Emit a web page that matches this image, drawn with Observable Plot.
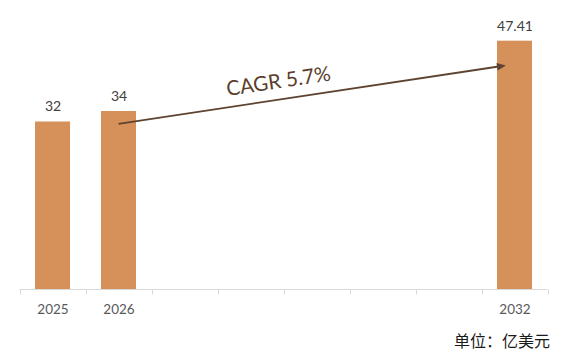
<!DOCTYPE html>
<html><head><meta charset="utf-8">
<script src="https://cdn.jsdelivr.net/npm/d3@7"></script>
<script src="https://cdn.jsdelivr.net/npm/@observablehq/plot@0.6"></script>
<style>
body{margin:0;background:#fff;}
#unit{font-family:"Noto Sans CJK SC",sans-serif;font-size:16px;line-height:18px;color:#1a1a1a;text-align:right;padding-right:21px;margin-top:9px;}
</style>
</head><body><div id="chart"></div><div id="unit">单位：亿美元</div>
<script>
const years = ["2025","2026","2027","2028","2029","2030","2031","2032"];
const labelledYears = ["2025","2026","2032"];
const barYears = ["2025","2026","2032"];
const barValues = [32, 34, 47.41];
const barLabels = ["32","34","47.41"];
const cagrLabel = "CAGR 5.7%";
const cagrYears = ["2026","2032"];
const cagrValues = [31.55, 42.7];
const cagrOffsets = [0.0, -0.13]; // fraction of a category step from the band centre

const bars = barYears.map((y,i)=>({year:y, value:barValues[i], label:barLabels[i]}));

const plot = Plot.plot({
  width: 571, height: 322,
  marginLeft: 16, marginRight: 20, marginTop: 27.1, marginBottom: 32.7,
  x: {domain: years, paddingInner: 0.47, paddingOuter: 0.235},
  y: {domain: [0, 50], axis: null},
  style: {fontFamily: "Lato, sans-serif", background: "#fff"},
  marks: [
    Plot.barY(bars, {x:"year", y:"value", fill:"#D6915A"}),
    Plot.text(bars, {x:"year", y:"value", text:"label", dy:-15, fontSize:14, fill:"#404040"}),
    Plot.axisX({tickSize:0, tickPadding:15, fontSize:13.5, fill:"#595959", label:null,
      tickFormat: d => labelledYears.includes(d) ? d : ""})
  ]
});
document.getElementById("chart").appendChild(plot);

// annotations positioned through Plot's own scales
const sx = plot.scale("x"), sy = plot.scale("y");
const bw = sx.bandwidth, step = sx.step;
const cx = d => sx.apply(d) + bw/2;
const svg = d3.select(plot);

const g = svg.append("g").attr("stroke","#D9D9D9").attr("stroke-width",1);
const y0 = Math.round(sy.apply(0)) + 0.5;
const xs = years.map(d => cx(d) - step/2);
xs.push(cx(years[years.length-1]) + step/2);
g.append("line").attr("x1", xs[0]).attr("x2", xs[xs.length-1]).attr("y1", y0).attr("y2", y0);
xs.forEach(v => g.append("line").attr("x1", Math.round(v)+0.5).attr("x2", Math.round(v)+0.5).attr("y1", y0).attr("y2", y0+5));

const x1 = cx(cagrYears[0]) + cagrOffsets[0]*step;
const x2 = cx(cagrYears[1]) + cagrOffsets[1]*step;
const y1 = sy.apply(cagrValues[0]), y2 = sy.apply(cagrValues[1]);
const ang = Math.atan2(y2-y1, x2-x1);
const a = svg.append("g");
const hl = 9, hw = 3.8;
const ex = x2 - hl*Math.cos(ang), ey = y2 - hl*Math.sin(ang);
a.append("line").attr("x1",x1).attr("y1",y1).attr("x2",ex).attr("y2",ey)
  .attr("stroke","#5E4330").attr("stroke-width",1.9);
const px = -Math.sin(ang), py = Math.cos(ang);
a.append("path").attr("d", `M${x2},${y2}L${ex+px*hw},${ey+py*hw}L${ex-px*hw},${ey-py*hw}Z`).attr("fill","#5E4330");
const t = 0.42;
const tx = x1 + (x2-x1)*t - px*18.5, ty = y1 + (y2-y1)*t - py*18.5;
a.append("text")
  .attr("transform", `translate(${tx},${ty}) rotate(${ang*180/Math.PI})`)
  .attr("text-anchor","middle").attr("dy","0.35em")
  .attr("font-size",20.5).attr("fill","#5A3E2B").attr("font-family","Lato, sans-serif")
  .text(cagrLabel);
</script>
</body></html>
